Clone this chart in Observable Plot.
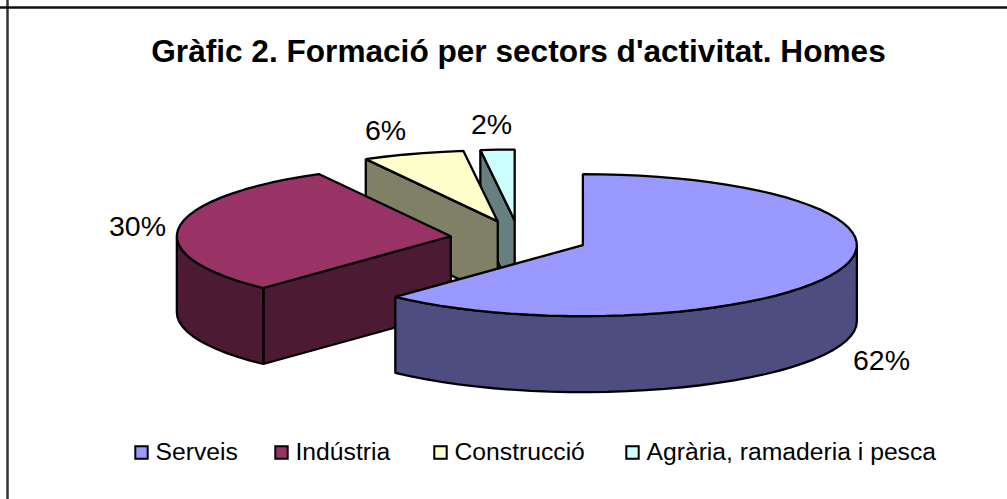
<!DOCTYPE html>
<html>
<head>
<meta charset="utf-8">
<script src="https://cdn.jsdelivr.net/npm/d3@7"></script>
<script src="https://cdn.jsdelivr.net/npm/@observablehq/plot@0.6"></script>
<style>
html,body{margin:0;padding:0;background:#fff}
svg{display:block}
</style>
</head>
<body>
<script>
// Data
const titleText = "Gràfic 2. Formació per sectors d'activitat. Homes";
const categories = ["Serveis", "Indústria", "Construcció", "Agrària, ramaderia i pesca"];
const shares = [62, 30, 6, 2];
const topColors = ["#9999FF", "#993366", "#FFFFCC", "#CCFFFF"];
const wallColors = ["#4D4D80", "#4D1A33", "#808066", "#668080"];

// Layout of the exploded 3D pie, in SVG pixel units
const W = 1007, H = 499;
const pie = {cx: 518.5, cy: 238, rx: 274, ry: 71, depth: 76, explodeX: 68.7, explodeY: 18};
const labelAnchors = [[881, 360], [137, 226], [385, 130], [491, 124]];
const legendSwatchX = [141, 281, 440, 632];
const legendY = 452;
const frame = {left: 7, top: 7};

const rad = d => d * Math.PI / 180;
const total = d3.sum(shares);
let acc = 0;
const slices = categories.map((name, i) => {
  const a0 = acc / total * 360;
  acc += shares[i];
  const a1 = acc / total * 360;
  const mid = rad((a0 + a1) / 2);
  return {
    name, i, a0, a1, share: shares[i],
    ax: pie.cx + pie.explodeX * Math.sin(mid),
    ay: pie.cy - pie.explodeY * Math.cos(mid)
  };
});
const rim = (s, deg, dy = 0) => [s.ax + pie.rx * Math.sin(rad(deg)), s.ay - pie.ry * Math.cos(rad(deg)) + dy];
const arc = (s, from, to, dy = 0) => {
  const n = Math.max(1, Math.round(Math.abs(to - from) / 4));
  return d3.range(n + 1).map(k => rim(s, from + (to - from) * k / n, dy));
};

const polys = [];
const add = (pts, fill, key) => pts.forEach(p => polys.push({x: p[0], y: p[1], fill, key}));
// painter's order: back slices first
[...slices].reverse().forEach(s => {
  const lo = Math.max(s.a0, 90), hi = Math.min(s.a1, 270);
  // radial cut face, visible when it looks toward the viewer
  if (s.a0 > 180) {
    const p = rim(s, s.a0);
    add([[s.ax, s.ay], p, [p[0], p[1] + pie.depth], [s.ax, s.ay + pie.depth]], wallColors[s.i], `cut${s.i}`);
  }
  // outer wall
  if (hi > lo) {
    add([...arc(s, lo, hi), ...arc(s, hi, lo, pie.depth)], wallColors[s.i], `wall${s.i}`);
  }
  // top
  add([[s.ax, s.ay], ...arc(s, s.a0, s.a1), [s.ax, s.ay]], topColors[s.i], `top${s.i}`);
});

const percent = slices.map((s, i) => ({x: labelAnchors[i][0], y: labelAnchors[i][1], t: s.share + "%"}));
const legend = slices.map((s, i) => ({x: legendSwatchX[i], y: legendY, name: s.name, fill: topColors[i]}));

const chart = Plot.plot({
  width: W, height: H,
  margin: 0,
  x: {domain: [0, W], range: [0, W], axis: null},
  y: {domain: [0, H], range: [0, H], axis: null},
  style: {background: "#fff", fontFamily: "'Liberation Sans', Arial, sans-serif"},
  marks: [
    Plot.ruleX([frame.left], {stroke: "#333", strokeWidth: 2.5}),
    Plot.ruleY([frame.top], {stroke: "#111", strokeWidth: 2.5}),
    Plot.line(polys, {x: "x", y: "y", z: "key", fill: "fill", stroke: "#000", strokeWidth: 2.3, strokeLinejoin: "miter", curve: "linear-closed"}),
    Plot.text([titleText], {x: () => 518, y: () => 51, text: d => d, fontSize: 31.6, fontWeight: "bold", fill: "#000", textAnchor: "middle"}),
    Plot.text(percent, {x: "x", y: "y", text: "t", fontSize: 28.5, fill: "#000", textAnchor: "middle"}),
    Plot.dot(legend, {x: "x", y: "y", symbol: "square", r: 7, fill: "fill", stroke: "#000", strokeWidth: 2}),
    Plot.text(legend, {x: "x", y: "y", dx: 14, text: "name", fontSize: 24.7, fill: "#000", textAnchor: "start"})
  ]
});
document.body.appendChild(chart);
</script>
</body>
</html>
